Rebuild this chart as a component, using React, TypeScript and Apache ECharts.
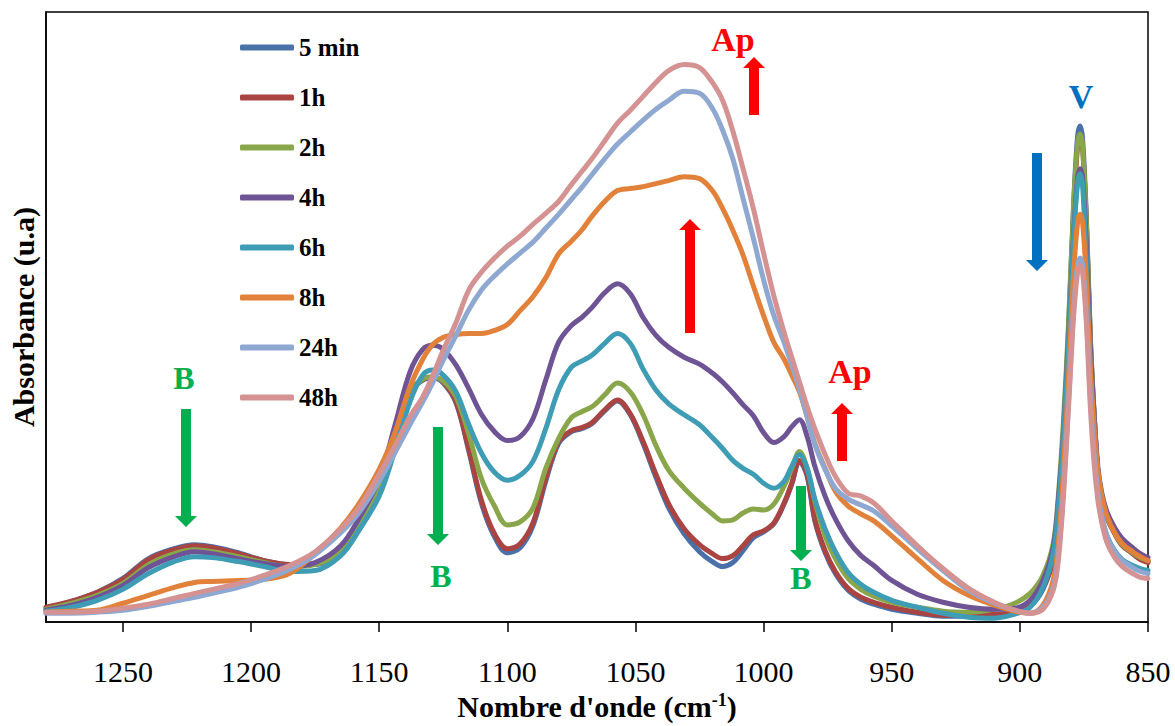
import React, { useEffect, useRef } from "react";
import * as echarts from "echarts";

// Wavenumbers (cm-1) at which the spectra were read
const WN = [1280,1270,1260,1250,1240,1230,1222,1215,1205,1195,1185,1175,1165,1158,1150,1144,1138,1133,1129,1125,1120,1115,1110,1105,1100,1095,1090,1085,1080,1075,1071,1067,1062,1057,1052,1047,1042,1037,1031,1025,1020,1016,1012,1008,1004,1000,996,992,989,986,983,980,976,972,967,962,957,950,940,930,920,910,902,896,891,887,885,883,881,879,877.5,876.5,875.5,874,872.5,871,869.5,868,866,863,860,856,853,850];

// Absorbance (u.a) for each time
const A_5MIN = [0.14,0.21,0.30,0.44,0.64,0.74,0.78,0.76,0.70,0.62,0.58,0.58,0.73,0.99,1.36,1.86,2.31,2.44,2.46,2.41,2.21,1.72,1.19,0.86,0.70,0.75,0.97,1.42,1.80,1.92,1.95,2.00,2.13,2.23,2.09,1.80,1.46,1.15,0.89,0.71,0.61,0.56,0.60,0.72,0.85,0.91,0.99,1.19,1.39,1.62,1.47,1.02,0.70,0.49,0.32,0.23,0.18,0.13,0.09,0.06,0.06,0.07,0.09,0.16,0.33,0.64,1.15,1.92,2.95,4.22,4.89,5.00,4.86,4.05,2.87,2.09,1.50,1.25,1.06,0.90,0.78,0.70,0.64,0.61];
const A_1H = [0.15,0.21,0.30,0.43,0.63,0.73,0.77,0.75,0.69,0.62,0.58,0.59,0.74,1.00,1.37,1.87,2.32,2.45,2.47,2.42,2.22,1.74,1.22,0.89,0.74,0.79,1.00,1.45,1.82,1.93,1.96,2.01,2.14,2.24,2.10,1.82,1.49,1.19,0.94,0.78,0.69,0.64,0.67,0.77,0.88,0.92,1.00,1.20,1.40,1.63,1.49,1.04,0.72,0.51,0.34,0.25,0.20,0.15,0.10,0.07,0.07,0.08,0.10,0.17,0.35,0.62,1.12,1.87,2.87,4.12,4.79,4.90,4.77,3.97,2.82,2.07,1.49,1.24,1.05,0.89,0.77,0.69,0.63,0.60];
const A_2H = [0.13,0.19,0.27,0.39,0.58,0.69,0.73,0.71,0.66,0.60,0.56,0.58,0.72,0.97,1.34,1.82,2.29,2.45,2.47,2.43,2.27,1.89,1.44,1.17,0.98,1.01,1.15,1.55,1.85,2.06,2.12,2.17,2.29,2.41,2.32,2.09,1.78,1.53,1.35,1.20,1.09,1.02,1.03,1.10,1.14,1.13,1.19,1.37,1.55,1.72,1.55,1.22,0.87,0.64,0.44,0.33,0.26,0.20,0.15,0.11,0.10,0.13,0.19,0.29,0.47,0.79,1.27,2.02,3.02,4.22,4.82,4.92,4.79,3.99,2.85,2.09,1.50,1.25,1.06,0.90,0.78,0.70,0.65,0.62];
const A_4H = [0.12,0.17,0.25,0.37,0.55,0.66,0.71,0.69,0.64,0.59,0.56,0.60,0.77,1.04,1.44,1.97,2.52,2.75,2.79,2.75,2.59,2.35,2.09,1.92,1.83,1.87,2.05,2.44,2.82,2.99,3.07,3.17,3.32,3.41,3.31,3.07,2.89,2.77,2.67,2.60,2.51,2.42,2.31,2.19,2.08,1.91,1.81,1.87,1.97,2.04,1.87,1.57,1.27,1.04,0.82,0.67,0.57,0.42,0.28,0.20,0.15,0.13,0.14,0.22,0.42,0.75,1.22,1.92,2.87,3.92,4.47,4.57,4.47,3.77,2.77,2.07,1.55,1.30,1.11,0.95,0.84,0.75,0.69,0.65];
const A_6H = [0.11,0.15,0.22,0.33,0.49,0.61,0.66,0.65,0.61,0.56,0.51,0.52,0.67,0.92,1.27,1.72,2.22,2.49,2.54,2.49,2.32,1.99,1.70,1.51,1.43,1.48,1.62,1.95,2.34,2.57,2.63,2.69,2.81,2.91,2.81,2.55,2.34,2.20,2.09,1.99,1.86,1.75,1.63,1.55,1.49,1.40,1.35,1.42,1.57,1.69,1.55,1.24,0.94,0.71,0.50,0.38,0.30,0.22,0.15,0.09,0.05,0.04,0.08,0.15,0.35,0.69,1.15,1.87,2.82,3.87,4.42,4.52,4.39,3.59,2.52,1.77,1.27,1.05,0.87,0.72,0.63,0.57,0.54,0.52];
const A_8H = [0.10,0.11,0.12,0.19,0.27,0.35,0.40,0.41,0.42,0.43,0.49,0.69,0.95,1.19,1.54,1.90,2.37,2.65,2.80,2.87,2.90,2.91,2.91,2.94,3.00,3.14,3.28,3.47,3.71,3.84,3.95,4.09,4.24,4.35,4.37,4.39,4.42,4.45,4.49,4.47,4.35,4.17,3.95,3.70,3.39,3.09,2.82,2.65,2.49,2.32,2.07,1.80,1.55,1.32,1.17,1.09,1.02,0.87,0.64,0.42,0.27,0.17,0.11,0.09,0.17,0.42,0.79,1.52,2.47,3.52,4.02,4.11,4.02,3.42,2.57,1.97,1.52,1.27,1.07,0.90,0.79,0.71,0.66,0.62];
const A_24H = [0.09,0.09,0.10,0.12,0.16,0.21,0.25,0.29,0.35,0.43,0.53,0.68,0.90,1.10,1.42,1.70,1.99,2.22,2.42,2.64,2.89,3.15,3.35,3.49,3.61,3.72,3.83,3.97,4.11,4.26,4.38,4.51,4.67,4.82,4.94,5.06,5.17,5.26,5.35,5.33,5.18,4.96,4.67,4.27,3.87,3.45,3.09,2.82,2.59,2.35,2.07,1.79,1.54,1.35,1.24,1.18,1.12,0.97,0.74,0.52,0.32,0.19,0.12,0.09,0.15,0.35,0.67,1.32,2.22,3.17,3.59,3.67,3.59,3.07,2.27,1.69,1.30,1.07,0.87,0.71,0.62,0.55,0.51,0.49];
const A_48H = [0.10,0.10,0.11,0.14,0.18,0.24,0.29,0.33,0.39,0.47,0.57,0.71,0.94,1.15,1.49,1.77,2.07,2.27,2.49,2.74,3.02,3.35,3.53,3.67,3.79,3.89,4.01,4.12,4.24,4.41,4.54,4.67,4.85,5.03,5.16,5.30,5.44,5.56,5.62,5.59,5.44,5.26,4.95,4.57,4.17,3.72,3.29,2.92,2.67,2.42,2.17,1.95,1.69,1.47,1.30,1.27,1.20,1.02,0.77,0.54,0.34,0.20,0.12,0.09,0.13,0.32,0.62,1.27,2.17,3.09,3.52,3.60,3.52,2.99,2.17,1.59,1.22,1.00,0.80,0.65,0.56,0.49,0.45,0.44];

const NAMES = ["5 min", "1h", "2h", "4h", "6h", "8h", "24h", "48h"];
const SERIES_VALUES = [A_5MIN, A_1H, A_2H, A_4H, A_6H, A_8H, A_24H, A_48H];
const COLORS = ["#4A70A8", "#A94442", "#8AA64B", "#6F5495", "#3F9CB5", "#E2823A", "#8EA8D1", "#D49292"];

const X_TICKS = [850, 900, 950, 1000, 1050, 1100, 1150, 1200, 1250];

const FONT = '"Liberation Serif", "Times New Roman", serif';

function arrow(cx: number, yTail: number, yTip: number, color: string) {
  const down = yTip > yTail;
  const head = 11;
  const base = down ? yTip - head : yTip + head;
  const sw = 5;
  const hw = 11;
  return {
    type: "polygon",
    shape: {
      points: [
        [cx - sw, yTail],
        [cx + sw, yTail],
        [cx + sw, base],
        [cx + hw, base],
        [cx, yTip],
        [cx - hw, base],
        [cx - sw, base],
      ],
    },
    style: { fill: color },
    z: 100,
  };
}

function label(text: string, x: number, y: number, color: string, size: number) {
  return {
    type: "text",
    x,
    y,
    z: 100,
    style: {
      text,
      fill: color,
      font: `bold ${size}px ${FONT}`,
      align: "center",
      verticalAlign: "middle",
    },
  };
}

export default function App() {
  const ref = useRef<HTMLDivElement>(null);
  useEffect(() => {
    if (!ref.current) return;
    const chart = echarts.init(ref.current, null, { renderer: "svg" });
    const GREEN = "#00B050";
    const RED = "#FF0000";
    const BLUE = "#0070C0";
    chart.setOption({
      animation: false,
      backgroundColor: "#fff",
      grid: {
        left: 44,
        right: 27,
        top: 12,
        bottom: 99,
        show: true,
        borderColor: "#000",
        borderWidth: 1.5,
      },
      legend: {
        orient: "vertical",
        left: 235,
        top: 30,
        itemGap: 25,
        itemWidth: 54,
        itemHeight: 6,
        icon: "roundRect",
        data: NAMES,
        textStyle: {
          fontFamily: FONT,
          fontWeight: "bold",
          fontSize: 25,
          color: "#000",
        },
      },
      xAxis: {
        type: "value",
        min: 850,
        max: 1280,
        interval: 50,
        inverse: true,
        name: "Nombre d'onde (cm{sup|-1})",
        nameLocation: "middle",
        nameGap: 61,
        nameTextStyle: {
          fontFamily: FONT,
          fontWeight: "bold",
          fontSize: 30,
          color: "#000",
          rich: {
            sup: {
              fontFamily: FONT,
              fontWeight: "bold",
              fontSize: 18,
              color: "#000",
              verticalAlign: "top",
              padding: [0, 0, 12, 0],
            },
          },
        },
        axisLine: { show: true, lineStyle: { color: "#000", width: 1.5 } },
        axisTick: { show: true, inside: false, length: 10, lineStyle: { color: "#000", width: 1.5 } },
        axisLabel: {
          fontFamily: FONT,
          fontSize: 30,
          color: "#000",
          margin: 34,
          showMaxLabel: false,
          formatter: (v: number) => (X_TICKS.indexOf(v) >= 0 ? String(v) : ""),
        },
        splitLine: { show: false },
      },
      yAxis: {
        type: "value",
        min: 0,
        max: 6.15,
        name: "Absorbance (u.a)",
        nameLocation: "middle",
        nameGap: 8,
        nameTextStyle: {
          fontFamily: FONT,
          fontWeight: "bold",
          fontSize: 30,
          color: "#000",
        },
        axisLine: { show: true, lineStyle: { color: "#000", width: 1.5 } },
        axisTick: { show: false },
        axisLabel: { show: false },
        splitLine: { show: false },
      },
      series: NAMES.map((name, i) => ({
        name,
        type: "line",
        data: WN.map((w, j) => [w, SERIES_VALUES[i][j]]),
        smooth: 0.35,
        symbol: "none",
        showSymbol: false,
        color: COLORS[i],
        lineStyle: { width: 5, color: COLORS[i], cap: "round", join: "round" },
        z: 2 + i,
      })),
      graphic: [
        label("B", 184, 378, GREEN, 32),
        arrow(186, 409, 527, GREEN),
        label("B", 441, 576, GREEN, 32),
        arrow(438, 427, 545, GREEN),
        label("B", 801, 578, GREEN, 32),
        arrow(801, 486, 561, GREEN),
        label("Ap", 733, 39, RED, 34),
        arrow(754, 115, 57, RED),
        arrow(690, 333, 219, RED),
        label("Ap", 850, 371, RED, 34),
        arrow(842, 461, 403, RED),
        label("V", 1081, 96, BLUE, 34),
        arrow(1037, 153, 271, BLUE),
      ],
    });
    return () => chart.dispose();
  }, []);
  return (
    <div
      ref={ref}
      style={{ position: "absolute", left: 0, top: 0, width: 1175, height: 726, background: "#fff" }}
    />
  );
}
